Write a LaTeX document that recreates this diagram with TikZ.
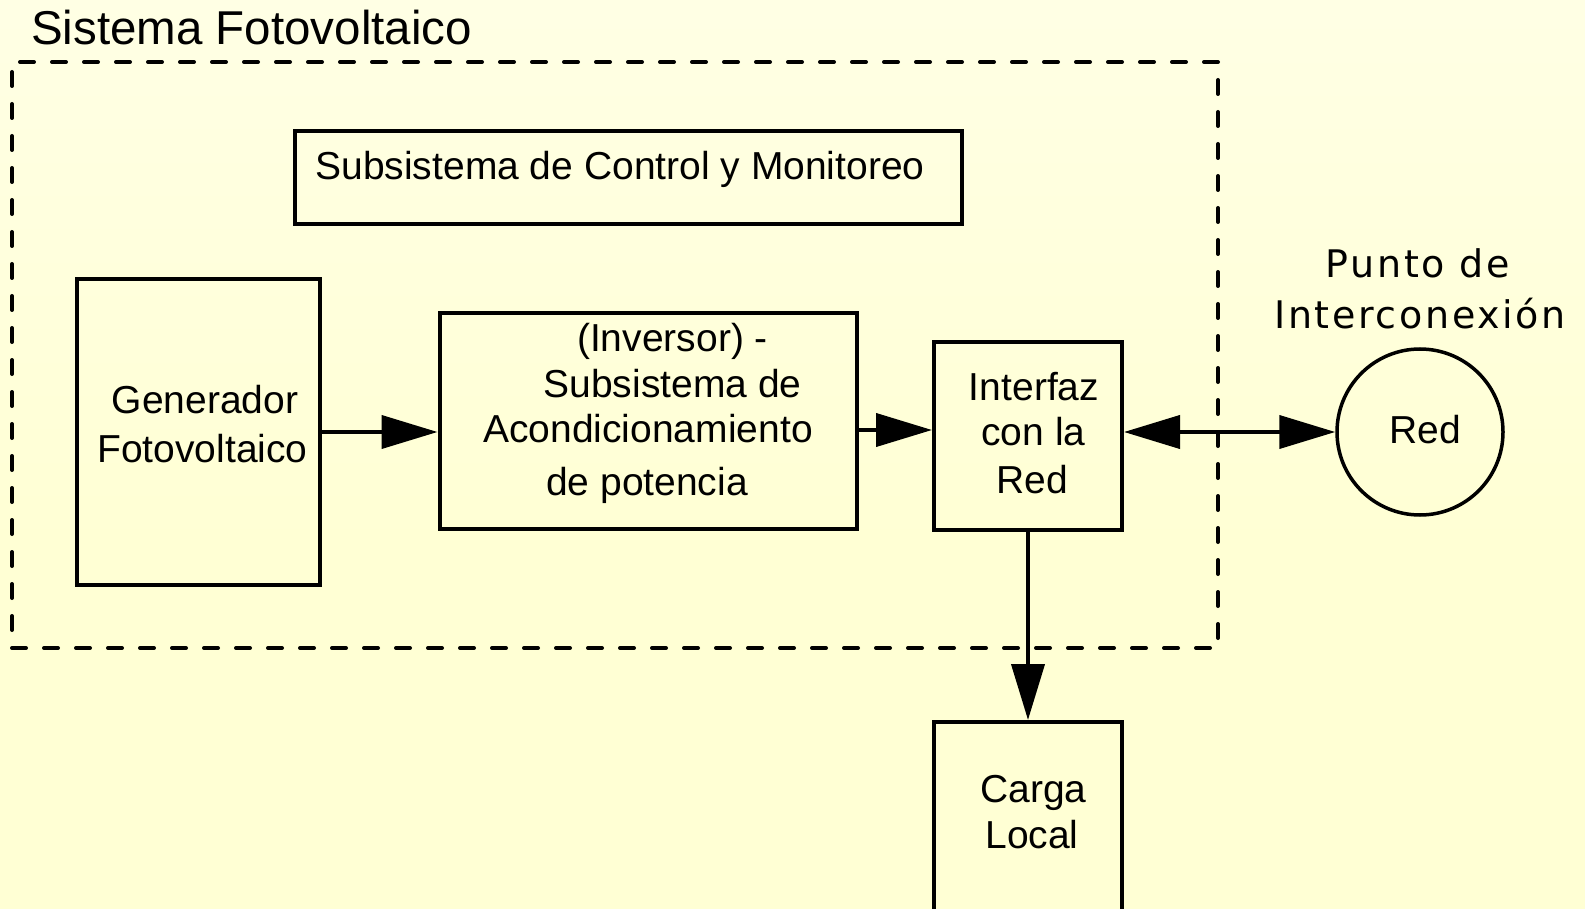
\documentclass[tikz,border=0pt]{standalone}
\usepackage{fontspec}
\setmainfont{Liberation Sans}
\newfontfamily\pifont[LetterSpace=7]{DejaVu Sans}
\usetikzlibrary{arrows.meta}
\definecolor{bgtop}{RGB}{255,255,242}
\definecolor{bgmid}{RGB}{255,255,212}
\definecolor{bglow}{RGB}{250,250,196}
\definecolor{bgbot}{RGB}{234,234,172}
\pgfdeclareverticalshading{bgshade}{100bp}{color(0bp)=(bgbot); color(6bp)=(bglow); color(22bp)=(bgmid); color(45bp)=(bgmid); color(100bp)=(bgtop)}
\begin{document}
\begin{tikzpicture}[x=1pt,y=-1pt,
  box/.style={draw, line width=4pt, rectangle, inner sep=0pt},
  frame/.style={draw, line width=4pt, line cap=round, dash pattern=on 14pt off 18pt, rectangle, inner sep=0pt},
  txt/.style={anchor=base, inner sep=0pt, font=\fontsize{39}{47}\selectfont},
  ttl/.style={anchor=base west, inner sep=0pt, font=\fontsize{47.5}{57}\selectfont},
  pitxt/.style={anchor=base, inner sep=0pt, font=\fontsize{38}{46}\pifont},
  conn/.style={line width=4pt, -{Triangle[length=56pt,width=33pt]}},
  conn2/.style={line width=4pt, {Triangle[length=56pt,width=33pt]}-{Triangle[length=56pt,width=33pt]}}
]
\useasboundingbox (0,0) rectangle (1585,909);
\shade[shading=bgshade] (0,0) rectangle (1585,909);

% dashed system frame
\node[frame, minimum width=1206pt, minimum height=586pt] (sys) at (615,355) {};
\node[ttl] (title) at (31,45) {Sistema Fotovoltaico};

% boxes
\node[box, minimum width=667pt, minimum height=93pt] (ctrl) at (628.5,177.5) {};
\node[box, minimum width=243pt, minimum height=306pt] (gen) at (198.5,432) {};
\node[box, minimum width=417pt, minimum height=216pt] (inv) at (648,421) {};
\node[box, minimum width=188pt, minimum height=188pt] (intf) at (1028,436) {};
\node[box, minimum width=188pt, minimum height=198pt] (carga) at (1028,821) {};
\node[draw, circle, line width=3.5pt, minimum size=166pt, inner sep=0pt] (red) at (1420,432) {};

% texts
\node[txt] (tctrl) at (620,180) {Subsistema de Control y Monitoreo};
\node[txt] (tgen1) at (205,413) {Generador};
\node[txt] (tgen2) at (202.5,462) {Fotovoltaico};
\node[txt] (tinv1) at (672.5,352) {(Inversor) -};
\node[txt] (tinv2) at (672.5,397) {Subsistema de};
\node[txt] (tinv3) at (648,442) {Acondicionamiento};
\node[txt] (tinv4) at (647,495) {de potencia};
\node[txt] (tint1) at (1034,400) {Interfaz};
\node[txt] (tint2) at (1033.5,445) {con la};
\node[txt] (tint3) at (1032.5,493) {Red};
\node[txt] (tred) at (1425,443) {Red};
\node[txt] (tcar1) at (1033.5,802) {Carga};
\node[txt] (tcar2) at (1032,848) {Local};
\node[pitxt] (tpi1) at (1418,278) {Punto de};
\node[pitxt] (tpi2) at (1420,328) {Interconexión};

% connectors
\coordinate (a2) at (857,430);
\draw[conn] (gen.east) -- (gen.east -| inv.west);
\draw[conn] (inv.east |- a2) -- (intf.west |- a2);
\draw[conn2] (intf.east |- red.west) -- (red.west);
\draw[conn] (intf.south) -- (carga.north);
\end{tikzpicture}
\end{document}
